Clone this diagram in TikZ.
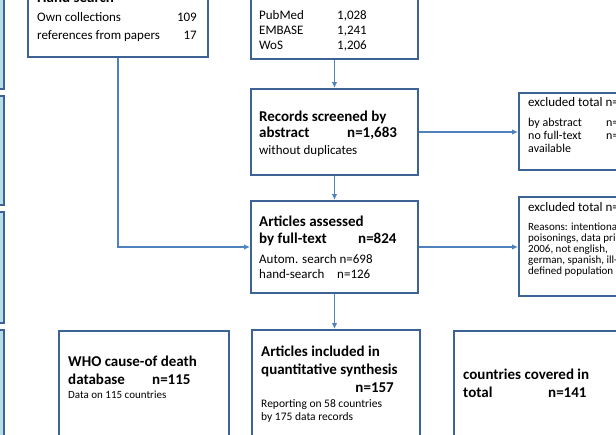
\documentclass[tikz,border=0pt]{standalone}
\usepackage{fontspec}
\setmainfont{Carlito}
\usetikzlibrary{arrows.meta}

\definecolor{boxblue}{RGB}{60,98,150}
\definecolor{lineblue}{RGB}{79,129,189}
\definecolor{barblue}{RGB}{183,221,232}

\tikzset{
  box/.style={draw=boxblue, line width=2pt, fill=white, inner sep=0pt},
  sidebar/.style={draw=boxblue, line width=2pt, fill=barblue, inner sep=0pt},
  link/.style={draw=lineblue, line width=1.4pt, -{Latex[length=6pt,width=5.5pt]}},
  head/.style={font=\bfseries\fontsize{15}{18}\selectfont, anchor=base west, inner sep=0pt},
  txt/.style={font=\fontsize{13}{15}\selectfont, anchor=base west, inner sep=0pt},
  note/.style={font=\fontsize{11.5}{13}\selectfont, anchor=base west, inner sep=0pt},
  reason/.style={font=\fontsize{11}{11}\selectfont, anchor=base west, inner sep=0pt},
}

\begin{document}
\begin{tikzpicture}[x=1pt, y=-1pt]
\useasboundingbox (0,0) rectangle (616,434);
\clip (0,0) rectangle (616,434);

% side bars
\node[sidebar, minimum width=64pt, minimum height=129pt] (bar1) at (-28,24.5) {};
\node[sidebar, minimum width=64pt, minimum height=109pt] (bar2) at (-28,150.5) {};
\node[sidebar, minimum width=64pt, minimum height=111pt] (bar3) at (-28,267.5) {};
\node[sidebar, minimum width=64pt, minimum height=150pt] (bar4) at (-28,405) {};

% boxes
\node[box, minimum width=180pt, minimum height=97pt] (hand) at (118,8.5) {};
\node[box, minimum width=167pt, minimum height=99pt] (db) at (334.5,9.5) {};
\node[box, minimum width=167pt, minimum height=86pt] (screen) at (334.5,132) {};
\node[box, minimum width=141pt, minimum height=77pt] (excl1) at (589.5,131.5) {};
\node[box, minimum width=167pt, minimum height=92pt] (assess) at (334.5,247) {};
\node[box, minimum width=141pt, minimum height=99pt] (excl2) at (589.5,246.5) {};
\node[box, minimum width=170pt, minimum height=149pt] (who) at (144,405.5) {};
\node[box, minimum width=168pt, minimum height=150pt] (incl) at (336,405) {};
\node[box, minimum width=186pt, minimum height=149pt] (ctry) at (547,405.5) {};

% connectors
\draw[link] (screen.north |- db.south) -- (screen.north);
\draw[link] (screen.east) -- (screen.east -| excl1.west);
\draw[link] (screen.south) -- (assess.north);
\draw[link] (hand.south) |- (assess.west);
\draw[link] (assess.east) -- (assess.east -| excl2.west);
\draw[link] (assess.south) -- (assess.south |- incl.north);

% hand search
\node[head] (handt) at (37,2) {Hand search};
\node[txt] (own) at (37,21) {Own collections};
\node[txt, anchor=base east] (ownn) at (197,21) {109};
\node[txt] (refs) at (37,39) {references from papers};
\node[txt, anchor=base east] (refsn) at (197,39) {17};

% databases
\node[txt] (pm) at (259,19) {PubMed};
\node[txt] (pmn) at (337,19) {1,028};
\node[txt] (emb) at (259,34) {EMBASE};
\node[txt] (embn) at (337,34) {1,241};
\node[txt] (wos) at (259,49) {WoS};
\node[txt] (wosn) at (337,49) {1,206};

% screening
\node[head] (scr1) at (259,121) {Records screened by};
\node[head] (scr2) at (259,137) {abstract};
\node[head] (scrn) at (347,137) {n=1,683};
\node[txt] (scr3) at (259,154) {without duplicates};

% first exclusion
\node[txt] (ex1t) at (528,106) {excluded total n=};
\node[note, font=\fontsize{12}{13}\selectfont] (ex1a) at (528,126) {by abstract};
\node[note, font=\fontsize{12}{13}\selectfont] (ex1an) at (606,126) {n=};
\node[note, font=\fontsize{12}{13}\selectfont] (ex1b) at (528,139) {no full-text};
\node[note, font=\fontsize{12}{13}\selectfont] (ex1bn) at (606,139) {n=};
\node[note, font=\fontsize{12}{13}\selectfont] (ex1c) at (528,152) {available};

% full-text
\node[head] (as1) at (259,226) {Articles assessed};
\node[head] (as2) at (259,243) {by full-text};
\node[head] (asn) at (358,243) {n=824};
\node[txt] (as3) at (259,263) {Autom. search n=698};
\node[txt] (as4) at (259,278) {hand-search};
\node[txt] (as4n) at (337,278) {n=126};

% second exclusion
\node[txt] (ex2t) at (528,211) {excluded total n=};
\node[reason] (ex2a) at (528,230) {Reasons: intentional};
\node[reason] (ex2b) at (528,241) {poisonings, data prior to};
\node[reason] (ex2c) at (528,252) {2006, not english,};
\node[reason] (ex2d) at (528,263) {german, spanish, ill-};
\node[reason] (ex2e) at (528,274) {defined population};

% WHO
\node[head] (who1) at (68,366) {WHO cause-of death};
\node[head] (who2) at (68,384) {database};
\node[head] (whon) at (152,384) {n=115};
\node[note, font=\fontsize{11}{13}\selectfont] (who3) at (68,398) {Data on 115 countries};

% included
\node[head] (in1) at (261,356) {Articles included in};
\node[head] (in2) at (261,374) {quantitative synthesis};
\node[head, anchor=base east] (inn) at (394,392) {n=157};
\node[note] (in3) at (261,407) {Reporting on 58 countries};
\node[note] (in4) at (261,420) {by 175 data records};

% countries
\node[head] (ct1) at (463,379) {countries covered in};
\node[head] (ct2) at (463,397) {total};
\node[head] (ctn) at (548,397) {n=141};
\end{tikzpicture}
\end{document}
